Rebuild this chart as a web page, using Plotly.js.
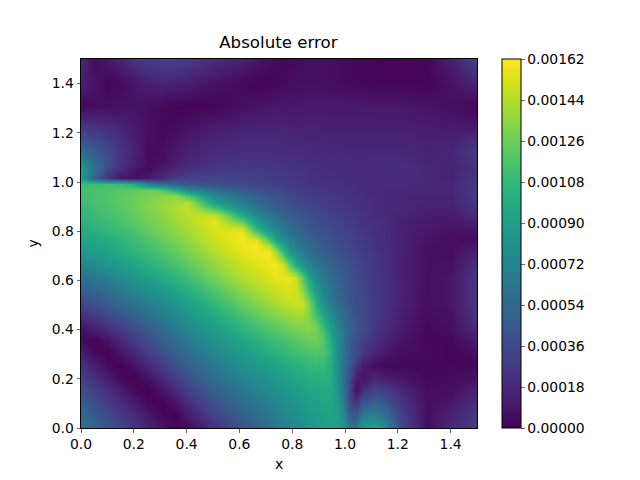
<!DOCTYPE html>
<html><head><meta charset="utf-8">
<script src="https://cdn.plot.ly/plotly-3.0.1.min.js"></script>
<style>html,body{margin:0;padding:0;background:#fff}</style></head>
<body><div id="chart" style="width:640px;height:480px"></div>
<script>
const xCoords=[0,.051,.102,.153,.204,.255,.305,.356,.407,.509,.611,.662,.713,.738,.764,.789,.814,.84,.865,.891,.916,.942,.967,.993,1.018,1.043,1.069,1.115,1.162,1.21,1.31,1.4,1.5];
const yCoords=xCoords.slice();
// absolute error, in units of 1e-5; one row per y value
const errorRows=[
[62,52,42,33,24,16,8,2,3,22,42,50,60,64,68,72,76,80,84,87,90,92,93,85,62,62,90,95,70,38,5,18,28],
[56,45,36,27,19,10,3,1,12,32,48,56,64,68,72,76,79,83,86,89,92,94,92,78,48,45,66,70,54,32,6,15,26],
[48,38,28,20,11,3,1,8,20,40,57,64,70,74,78,81,84,87,90,92,94,95,90,70,35,25,44,50,40,26,6,10,22],
[40,30,21,12,3,1,8,18,30,50,64,71,77,80,83,86,89,92,95,97,98,98,88,62,30,5,20,32,28,18,5,6,14],
[30,21,12,3,1,8,18,29,40,58,72,78,84,87,90,93,96,98,100,102,103,100,86,60,35,14,7,16,12,9,3,4,8],
[22,13,4,1,8,18,28,39,48,66,80,86,91,94,97,100,103,105,107,109,109,102,84,62,42,26,12,5,3,3,3,3,3],
[13,4,1,8,18,28,38,48,58,74,88,94,100,103,106,109,112,114,116,118,116,105,84,64,46,36,26,15,8,5,4,2,6],
[4,1,8,18,28,38,48,57,66,82,96,103,109,112,115,118,120,123,125,126,120,102,80,64,48,39,31,21,14,8,3,3,12],
[7,14,22,30,38,47,57,66,75,90,105,112,118,121,124,127,129,131,133,128,112,92,76,62,50,42,35,26,19,12,3,6,20],
[34,40,47,55,62,70,76,84,92,108,124,132,139,142,145,147,150,148,130,102,80,68,58,50,43,38,34,27,21,15,5,9,27],
[58,64,70,77,84,90,98,105,112,128,143,148,153,155,157,158,150,120,92,76,66,58,51,45,40,36,32,26,21,15,6,9,26],
[72,77,83,89,95,102,108,115,122,136,149,154,158,160,152,125,100,84,72,64,58,52,47,43,38,34,31,25,20,14,6,7,22],
[84,88,93,99,104,110,116,122,129,143,155,159,160,142,112,90,76,67,60,54,49,45,41,38,35,32,29,24,20,15,6,5,16],
[88,92,97,102,108,114,120,126,133,147,158,161,145,118,93,79,68,61,55,50,46,42,39,36,33,30,28,23,19,15,7,5,12],
[92,96,100,105,111,117,123,129,136,150,160,155,118,95,80,70,62,56,51,47,43,40,37,34,32,29,27,23,19,15,8,5,6],
[96,100,104,109,115,121,127,133,139,152,160,128,96,80,71,63,57,52,47,44,41,38,35,33,31,28,26,22,19,15,9,6,6],
[100,104,108,113,118,124,130,136,141,154,150,105,82,72,64,58,53,48,44,41,38,36,33,31,29,27,25,22,19,15,10,8,10],
[103,107,111,116,121,127,132,138,144,155,120,88,72,64,58,53,49,45,41,38,36,34,32,30,28,26,24,21,18,15,11,10,15],
[106,110,114,118,123,129,134,140,146,148,98,76,63,57,52,48,44,41,38,36,34,32,30,28,26,25,23,20,18,16,12,12,20],
[108,112,116,120,125,131,136,142,147,118,80,66,55,50,46,43,40,37,35,33,31,29,28,26,25,24,22,20,18,17,14,14,23],
[110,114,117,121,126,131,136,140,145,92,68,57,48,45,42,39,36,34,32,30,29,27,26,25,24,23,22,20,18,17,15,15,25],
[112,115,118,121,125,129,133,137,118,76,58,50,43,40,38,35,33,31,29,28,27,26,25,24,23,22,21,19,18,17,16,16,27],
[113,115,118,120,123,127,120,100,78,58,47,42,37,35,33,31,29,28,27,26,25,24,23,23,22,21,20,19,18,18,17,17,28],
[110,112,112,110,98,72,58,50,44,38,35,33,31,30,28,27,26,25,24,24,23,23,22,22,21,21,20,19,19,19,18,17,27],
[88,50,25,8,8,12,18,28,30,32,31,30,29,28,27,26,25,24,23,23,22,22,21,21,21,20,20,20,20,21,18,16,26],
[88,60,30,18,6,6,14,20,24,28,28,28,27,27,26,25,24,24,23,22,22,21,21,21,20,20,20,20,20,21,17,15,24],
[82,58,38,24,12,4,8,14,18,24,26,25,25,24,24,23,23,22,22,21,21,21,20,20,20,19,19,20,20,21,17,15,24],
[62,50,36,24,14,4,5,10,15,20,22,22,22,21,21,21,20,20,20,19,19,19,19,18,18,18,18,18,18,18,15,17,27],
[44,38,30,22,13,5,4,8,12,17,19,19,19,19,18,18,18,18,17,17,17,16,16,16,16,16,16,16,16,16,15,15,23],
[28,26,22,17,11,6,3,5,8,13,16,16,16,16,16,15,15,15,15,15,14,14,14,14,14,14,14,14,14,14,13,12,12],
[3,6,6,7,8,6,4,2,1,2,6,8,9,10,10,10,10,11,11,11,11,11,11,11,11,11,11,10,10,10,8,6,2],
[14,8,2,4,9,13,15,14,12,7,3,1,2,3,4,5,5,6,6,6,6,5,5,4,4,3,3,2,2,2,2,7,16],
[18,4,10,16,24,29,31,31,28,20,14,10,5,4,3,3,4,5,6,6,6,5,5,4,4,3,3,2,1,1,2,14,32]
];
const zValues=errorRows.map(r=>r.map(v=>v/1e5));
const cbTicks=[0,0.00018,0.00036,0.00054,0.00072,0.0009,0.00108,0.00126,0.00144,0.00162];
const cbLabels=["0.00000","0.00018","0.00036","0.00054","0.00072","0.00090","0.00108","0.00126","0.00144","0.00162"];
const axisTicks=[0,.2,.4,.6,.8,1,1.2,1.4];
const font={family:'"DejaVu Sans",sans-serif',size:13.9,color:'#000'};
function axis(t,s){return {title:{text:t,font:font,standoff:s},range:[0,1.5],tickvals:axisTicks,tickformat:'.1f',ticks:'outside',ticklen:3.5,tickwidth:0.8,
 showline:true,linecolor:'#000',linewidth:1,mirror:true,showgrid:false,zeroline:false,tickfont:font,automargin:false};}
Plotly.newPlot('chart',[{type:'heatmap',x:xCoords,y:yCoords,z:zValues,zsmooth:'best',colorscale:'Viridis',zmin:0,zmax:0.00162,
 colorbar:{x:1.0631,xanchor:'left',xref:'paper',y:0.5,yanchor:'middle',len:1,lenmode:'fraction',thickness:19,thicknessmode:'pixels',
 tickmode:'array',tickvals:cbTicks,ticktext:cbLabels,ticks:'outside',ticklen:3.5,tickwidth:0.8,tickfont:font,outlinewidth:1,outlinecolor:'#000',xpad:0,ypad:0}}],
 {width:640,height:480,margin:{l:81,r:163,t:58.6,b:52.4,pad:0},paper_bgcolor:'#fff',plot_bgcolor:'#fff',showlegend:false,font:font,
 title:{text:'Absolute error',font:{family:'"DejaVu Sans",sans-serif',size:16.67,color:'#000'},x:0.435,xanchor:'center',y:0.9,yanchor:'bottom',yref:'container'},
 xaxis:axis('x',8),yaxis:axis('y',9)},{displayModeBar:false,staticPlot:true});
</script></body></html>
